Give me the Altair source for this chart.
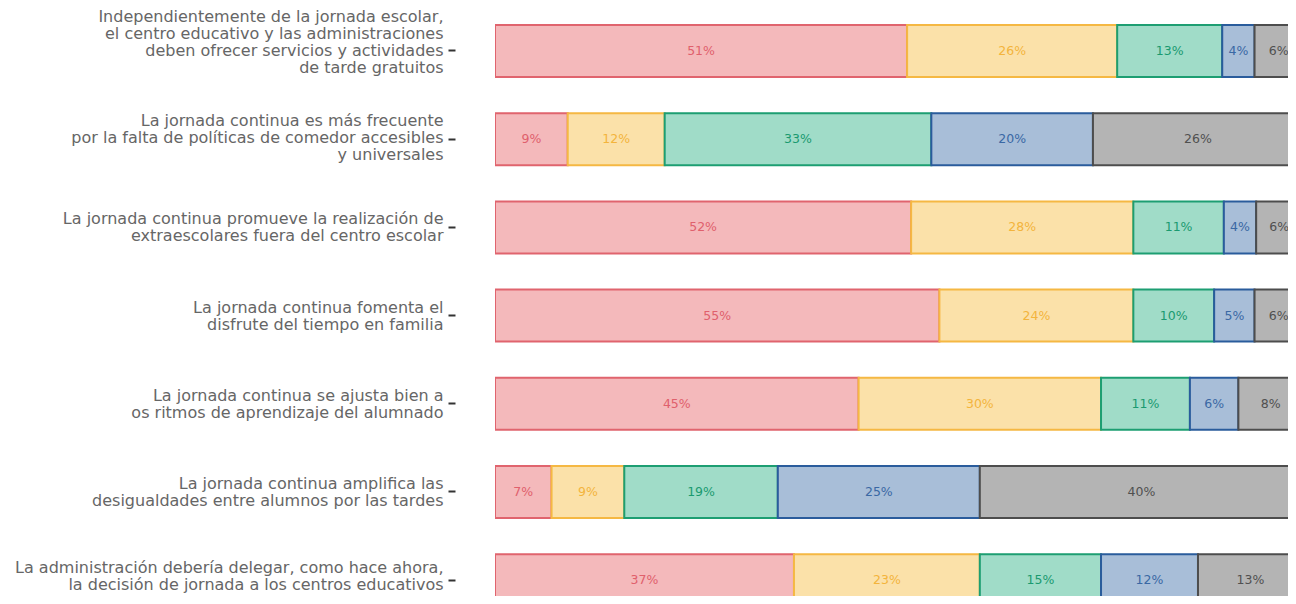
import altair as alt
import pandas as pd

questions = [
    "Independientemente de la jornada escolar,|el centro educativo y las administraciones|deben ofrecer servicios y actividades|de tarde gratuitos",
    "La jornada continua es más frecuente|por la falta de políticas de comedor accesibles|y universales",
    "La jornada continua promueve la realización de|extraescolares fuera del centro escolar",
    "La jornada continua fomenta el|disfrute del tiempo en familia",
    "La jornada continua se ajusta bien a|os ritmos de aprendizaje del alumnado",
    "La jornada continua amplifica las|desigualdades entre alumnos por las tardes",
    "La administración debería delegar, como hace ahora,|la decisión de jornada a los centros educativos",
]

series = ["Muy de acuerdo", "De acuerdo", "Ni de acuerdo ni en desacuerdo", "En desacuerdo", "Muy en desacuerdo"]
muy_de_acuerdo = [51, 9, 51.5, 55, 45, 7, 37]
de_acuerdo = [26, 12, 27.5, 24, 30, 9, 23]
neutral = [13, 33, 11.2, 10, 11, 19, 15]
en_desacuerdo = [4, 20, 4, 5, 6, 25, 12]
muy_en_desacuerdo = [6, 26, 5.7, 6, 8, 40, 13]

fills = ["#f4b9bb", "#fbe1a9", "#a0dcc8", "#a8bed8", "#b4b4b4"]
strokes = ["#e0646e", "#f5b843", "#1d9e72", "#2a5c9c", "#4d4d4d"]
text_colors = ["#e0606c", "#f3b43c", "#1a9a70", "#3a68a4", "#505050"]

rows = []
for k, (name, vals) in enumerate(zip(series, [muy_de_acuerdo, de_acuerdo, neutral, en_desacuerdo, muy_en_desacuerdo])):
    for q, v in zip(questions, vals):
        rows.append({"q": q, "serie": name, "k": k, "value": v})
df = pd.DataFrame(rows)

base = alt.Chart(df).transform_stack(
    stack="value",
    groupby=["q"],
    sort=[alt.SortField("k", order="ascending")],
    as_=["x0", "x1"],
).transform_calculate(
    mid="(datum.x0 + datum.x1) / 2",
    label="round(datum.value) + '%'",
)

nlines = "length(split(datum.label, '|'))"
yenc = alt.Y(
    "q:N",
    sort=questions,
    title=None,
    scale=alt.Scale(range=[-1.1, 616.3], paddingInner=0.41, paddingOuter=0.205),
    axis=alt.Axis(
        labelExpr="split(datum.label, '|')",
        labelFont="DejaVu Sans",
        labelFontSize=16,
        labelColor="#666666",
        labelLineHeight=17,
        labelPadding=5,
        labelLimit=0,
        labelOffset={
            "condition": [
                {"test": f"{nlines} == 4", "value": -34},
                {"test": f"{nlines} == 3", "value": -18},
                {"test": "indexof(datum.label, 'administración debería') >= 0", "value": -12},
            ],
            "value": -8,
        },
        tickSize=7,
        tickWidth=2,
        tickColor="#333333",
        offset=40,
        domain=False,
        grid=False,
    ),
)

xscale = alt.Scale(domain=[0, 98.14], nice=False, zero=False)

bars = base.mark_bar(strokeWidth=2, clip=True).encode(
    x=alt.X("x0:Q", scale=xscale, axis=None),
    x2="x1:Q",
    y=yenc,
    fill=alt.Fill("serie:N", scale=alt.Scale(domain=series, range=fills), legend=None),
    stroke=alt.Stroke("serie:N", scale=alt.Scale(domain=series, range=strokes), legend=None),
)

texts = base.mark_text(font="DejaVu Sans", fontSize=12.5, clip=True).encode(
    x=alt.X("mid:Q", scale=xscale, axis=None),
    y=yenc,
    text="label:N",
    color=alt.Color("serie:N", scale=alt.Scale(domain=series, range=text_colors), legend=None),
)

chart = alt.layer(bars, texts).properties(
    width=793,
    height=588,
    autosize="none",
    padding={"left": 487, "top": 0, "right": 0, "bottom": 0},
    background="white",
).configure_view(stroke=None)

chart.save("out.html", embed_options={"renderer": "svg", "actions": False})
